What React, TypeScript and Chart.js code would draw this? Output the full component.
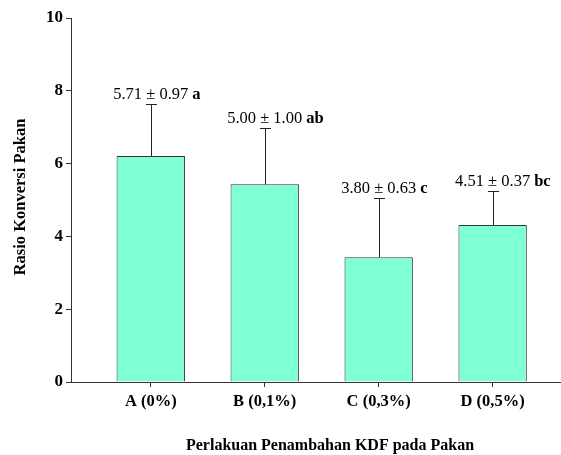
import React, { useEffect, useRef } from "react";
import { Chart, registerables } from "chart.js";

Chart.register(...registerables);

const categories = ["A (0%)", "B (0,1%)", "C (0,3%)", "D (0,5%)"];
const barValues = [6.21, 5.43, 3.43, 4.31];
const errorPlus = [1.43, 1.56, 1.62, 0.93];
const meanLabels = ["5.71 \u00b1 0.97", "5.00 \u00b1 1.00", "3.80 \u00b1 0.63", "4.51 \u00b1 0.37"];
const letterLabels = ["a", "ab", "c", "bc"];
const yTicks = [0, 2, 4, 6, 8, 10];
const xTitle = "Perlakuan Penambahan KDF pada Pakan";
const yTitle = "Rasio Konversi Pakan";

const FONT = "'Liberation Serif', 'Times New Roman', serif";

const overlayPlugin = {
  id: "overlay",
  afterDatasetsDraw(chart: any) {
    const ctx = chart.ctx;
    const xs = chart.scales.x;
    const ys = chart.scales.y;
    ctx.save();
    barValues.forEach((v, i) => {
      const x = xs.getPixelForValue(i);
      const yb = ys.getPixelForValue(v);
      const yt = ys.getPixelForValue(v + errorPlus[i]);
      ctx.strokeStyle = "#222";
      ctx.lineWidth = 1;
      ctx.beginPath();
      ctx.moveTo(Math.round(x) + 0.5, yb);
      ctx.lineTo(Math.round(x) + 0.5, Math.round(yt) + 0.5);
      ctx.moveTo(Math.round(x) - 5, Math.round(yt) + 0.5);
      ctx.lineTo(Math.round(x) + 6, Math.round(yt) + 0.5);
      ctx.stroke();
      // label
      ctx.fillStyle = "#000";
      ctx.textBaseline = "alphabetic";
      ctx.font = `16.5px ${FONT}`;
      const mt = meanLabels[i];
      const w = ctx.measureText(mt).width;
      const left = x - w / 2;
      ctx.textAlign = "left";
      ctx.fillText(mt, left, yt - 5);
      ctx.font = `bold 16.5px ${FONT}`;
      ctx.fillText(letterLabels[i], left + w + 4, yt - 5);
    });
    // axis titles
    ctx.fillStyle = "#000";
    ctx.font = `bold 16px ${FONT}`;
    ctx.textAlign = "center";
    ctx.textBaseline = "middle";
    ctx.fillText(xTitle, 330, 446);
    ctx.translate(21, 197);
    ctx.rotate(-Math.PI / 2);
    ctx.font = `bold 16.5px ${FONT}`;
    ctx.fillText(yTitle, 0, 0);
    ctx.restore();
  },
};

export default function App() {
  const ref = useRef<HTMLCanvasElement>(null);
  useEffect(() => {
    document.body.style.margin = "0";
    const canvas = ref.current!;
    const chart = new Chart(canvas, {
      type: "bar",
      data: {
        datasets: [
          {
            data: barValues.map((v, i) => ({ x: i, y: v })),
            backgroundColor: "#7fffd4",
            borderColor: "#333333",
            borderWidth: 1,
            barPercentage: 0.6,
            categoryPercentage: 1,
          },
        ],
      },
      options: {
        responsive: false,
        animation: false,
        layout: { padding: { top: 18, right: 0, left: 0, bottom: 0 } },
        plugins: { legend: { display: false }, tooltip: { enabled: false } },
        scales: {
          x: {
            type: "linear",
            min: -0.7,
            max: 3.6,
            offset: false,
            afterBuildTicks: (scale: any) => {
              scale.ticks = categories.map((_, i) => ({ value: i }));
            },
            afterFit: (scale: any) => {
              scale.height = 73;
            },
            ticks: {
              callback: (v: any) => categories[v as number] ?? "",
              color: "#000",
              font: { family: FONT, size: 16.5, weight: "bold" },
              padding: 5,
              maxRotation: 0,
              autoSkip: false,
            },
            grid: { display: true, offset: false, drawOnChartArea: false, tickLength: 5, color: "#333" },
            border: { display: true, color: "#333", width: 1 },
          },
          y: {
            min: 0,
            max: 10,
            afterBuildTicks: (scale: any) => {
              scale.ticks = yTicks.map((v) => ({ value: v }));
            },
            afterFit: (scale: any) => {
              scale.width = 71;
            },
            ticks: {
              color: "#000",
              font: { family: FONT, size: 17, weight: "bold" },
              padding: 3,
            },
            grid: { display: true, drawOnChartArea: false, tickLength: 5, color: "#333" },
            border: { display: true, color: "#333", width: 1 },
          },
        },
      },
      plugins: [overlayPlugin],
    } as any);
    return () => chart.destroy();
  }, []);
  return (
    <div style={{ width: 561, height: 455 }}>
      <canvas ref={ref} width={561} height={455} style={{ display: "block" }} />
    </div>
  );
}
